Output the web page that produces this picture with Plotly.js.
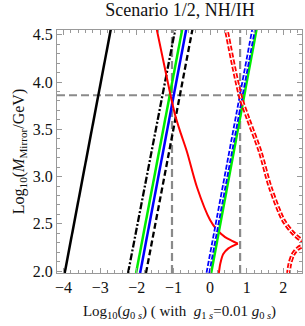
<!DOCTYPE html>
<html>
<head>
<meta charset="utf-8">
<script src="https://cdn.plot.ly/plotly-3.0.1.min.js"></script>
<style>html,body{margin:0;padding:0;background:#fff;}#chart{width:305px;height:326px;}</style>
</head>
<body>
<div id="chart"></div>
<script>
// Straight lines (two end points each, data coords)
const blackSolidX = [-3.97, -2.69];
const blackSolidY = [1.98, 4.60];
const blackDashDotX = [-2.24, -0.93];
const blackDashDotY = [1.98, 4.60];
const greenLeftX = [-2.02, -0.74];
const greenLeftY = [1.98, 4.60];
const blueLeftX = [-1.91, -0.63];
const blueLeftY = [1.98, 4.60];
const blackDashedX = [-1.75, -0.46];
const blackDashedY = [1.98, 4.60];
const blueDashedX = [-0.06, 1.21];
const blueDashedY = [1.98, 4.60];
const greenRightX = [0.03, 1.29];
const greenRightY = [1.98, 4.60];

// Red solid curve (upper and lower branch, meeting at the cusp)
const redUpperX = [-1.48, -1.08, -0.96, -0.82, -0.63, -0.36, 0.00, 0.18, 0.41, 0.60, 0.76];
const redUpperY = [4.60, 3.86, 3.66, 3.48, 3.26, 2.89, 2.54, 2.44, 2.36, 2.32, 2.29];
const redLowerX = [0.76, 0.50, 0.36, 0.28, 0.24];
const redLowerY = [2.29, 2.24, 2.18, 2.08, 1.98];

// Red dashed curve
const redDUpperX = [0.42, 0.82, 1.04, 1.37, 1.64, 2.00, 2.27, 2.45, 2.66];
const redDUpperY = [4.60, 3.86, 3.61, 3.26, 2.89, 2.54, 2.40, 2.34, 2.29];
const redDLowerX = [2.66, 2.40, 2.27, 2.18, 2.14];
const redDLowerY = [2.29, 2.24, 2.18, 2.08, 1.98];

// Reference lines
const refY = 3.86;
const refX = [-1.04, 0.82];

const xTicks = [-4, -3, -2, -1, 0, 1, 2];
const xTickText = ["\u22124", "\u22123", "\u22122", "\u22121", "0", "1", "2"];
const yTicks = [2.0, 2.5, 3.0, 3.5, 4.0, 4.5];
const yTickText = ["2.0", "2.5", "3.0", "3.5", "4.0", "4.5"];

const xRange = [-4.18, 2.51];
const yRange = [1.98, 4.55];

function ln(x, y, color, width, dash, shape) {
  return {x: x, y: y, type: 'scatter', mode: 'lines', hoverinfo: 'skip',
    line: {color: color, width: width, dash: dash || 'solid', shape: shape || 'linear', smoothing: 0.8}};
}

const gray = '#8a8a8a';
const traces = [
  ln([xRange[0], xRange[1]], [refY, refY], gray, 2.2, '8px,4px'),
  ln([refX[0], refX[0]], [yRange[0], yRange[1]], gray, 2.2, '8px,4px'),
  ln([refX[1], refX[1]], [yRange[0], yRange[1]], gray, 2.2, '8px,4px'),
  ln(blackSolidX, blackSolidY, '#000', 2.5),
  ln(blackDashDotX, blackDashDotY, '#000', 2.3, '7px,2px,2px,2px'),
  ln(greenLeftX, greenLeftY, '#00ee00', 2.5),
  ln(blueLeftX, blueLeftY, '#0000ff', 2.5),
  ln(blackDashedX, blackDashedY, '#000', 2.3, '6px,3px'),
  ln(redUpperX, redUpperY, '#ff0000', 2, 'solid', 'spline'),
  ln(redLowerX, redLowerY, '#ff0000', 2, 'solid', 'spline'),
  ln(greenRightX, greenRightY, '#00ee00', 2.5),
  ln(blueDashedX, blueDashedY, '#0000ff', 4.5, '5px,2px'),
  ln(blueDashedX, blueDashedY, '#ffffff', 1.0, '5px,2px'),
  ln(redDUpperX, redDUpperY, '#ff0000', 4.5, '5px,2px', 'spline'),
  ln(redDUpperX, redDUpperY, '#ffffff', 1.0, '5px,2px', 'spline'),
  ln(redDLowerX, redDLowerY, '#ff0000', 4.5, '5px,2px', 'spline'),
  ln(redDLowerX, redDLowerY, '#ffffff', 1.0, '5px,2px', 'spline')
];

const font = {family: '"Liberation Serif", "DejaVu Serif", serif', color: '#222', size: 14};

const layout = {
  width: 305, height: 326,
  margin: {l: 57, r: 3, t: 30, b: 53, pad: 0},
  paper_bgcolor: '#fff', plot_bgcolor: '#fff',
  showlegend: false,
  font: font,
  title: {text: 'Scenario 1/2, NH/IH', font: {family: font.family, size: 18, color: '#111'},
    x: 0.59, xanchor: 'center', y: 0.99, yanchor: 'top'},
  xaxis: {
    range: xRange, tickvals: xTicks, ticktext: xTickText,
    ticks: 'inside', ticklen: 5, tickcolor: '#999', tickwidth: 1,
    minor: {dtick: 0.2, tick0: 0, ticks: 'inside', ticklen: 3, tickcolor: '#999', tickwidth: 1},
    showline: true, linecolor: '#999', linewidth: 1, mirror: 'allticks',
    showgrid: false, zeroline: false,
    tickfont: {family: font.family, size: 16, color: '#111'},
    title: {text: 'Log<sub>10</sub>(<i>g</i><sub>0 <i>s</i></sub>) ( with  <i>g</i><sub>1 <i>s</i></sub>=0.01 <i>g</i><sub>0 <i>s</i></sub>)',
      font: {family: font.family, size: 15, color: '#111'}, standoff: 10}
  },
  yaxis: {
    range: yRange, tickvals: yTicks, ticktext: yTickText,
    ticks: 'inside', ticklen: 5, tickcolor: '#999', tickwidth: 1,
    minor: {dtick: 0.1, tick0: 0, ticks: 'inside', ticklen: 3, tickcolor: '#999', tickwidth: 1},
    showline: true, linecolor: '#999', linewidth: 1, mirror: 'allticks',
    showgrid: false, zeroline: false,
    tickfont: {family: font.family, size: 16, color: '#111'},
    title: {text: 'Log<sub>10</sub>(<i>M</i><sub>Mirror</sub>/GeV)',
      font: {family: font.family, size: 16, color: '#111'}, standoff: 4}
  }
};

Plotly.newPlot('chart', traces, layout, {staticPlot: true, displayModeBar: false});
</script>
</body>
</html>
